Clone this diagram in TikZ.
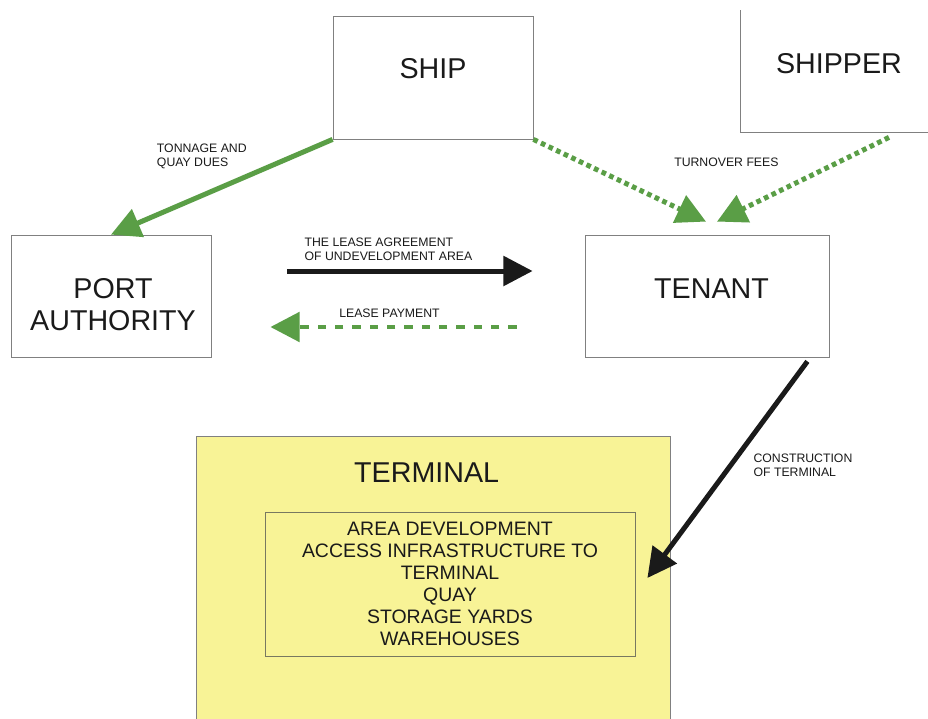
\documentclass[tikz,border=0pt]{standalone}
\usepackage{fontspec}
\setmainfont{Liberation Sans}
\usetikzlibrary{arrows.meta}
\definecolor{flowgreen}{RGB}{90,158,70}
\definecolor{boxline}{RGB}{128,128,128}
\definecolor{areafill}{RGB}{248,243,150}
\definecolor{arealine}{RGB}{120,120,96}
\definecolor{inkblack}{RGB}{26,26,26}
\tikzstyle{party}=[
	rectangle,
	draw=boxline,
	line width=0.6pt,
	fill=white
]
\tikzstyle{partyname}=[
	font=\fontsize{21.5}{24}\selectfont,
	align=center,
	text=inkblack,
	inner sep=0pt
]
\tikzstyle{note}=[
	font=\fontsize{9.2}{10}\selectfont,
	align=left,
	anchor=north west,
	inner sep=0pt,
	text=inkblack
]
\tikzstyle{flow}=[
	line width=3.75pt,
	-{Triangle[length=22pt,width=22pt]}
]
\tikzstyle{money}=[flow, color=flowgreen]
\tikzstyle{fees}=[money, dash pattern=on 3.5pt off 2.8pt]
\tikzstyle{rent}=[money, line width=3.5pt, dash pattern=on 6.2pt off 6.8pt]
\tikzstyle{deal}=[flow, color=inkblack]

\begin{document}
\begin{tikzpicture}[x=0.75pt,y=-0.75pt]
\clip (0,0) rectangle (928,718);
\fill[white] (0,0) rectangle (928,718);

% the parties
\node [party, minimum width=150pt, minimum height=92.25pt] (ship) at (433,77.5) {};
\node [party, draw=none, minimum width=150pt, minimum height=103.5pt] (shipper) at (841,63) {};
\draw [boxline, line width=0.6pt] (shipper.south west |- 0,10) -- (shipper.south west) -- (shipper.south east);
\node [party, minimum width=150pt, minimum height=91.5pt] (port) at (111,296) {};
\node [party, minimum width=183pt, minimum height=91.5pt] (tenant) at (707,296) {};
\node [partyname] (shipname) at (433,68.2) {SHIP};
\node [partyname] (shippername) at (839,63.7) {SHIPPER};
\node [partyname] (portname) at (113,304.2) {PORT\\AUTHORITY};
\node [partyname] (tenantname) at (711.5,288.3) {TENANT};

% terminal area
\node [rectangle, draw=boxline, line width=0.6pt, fill=areafill,
	minimum width=355.5pt, minimum height=228pt] (terminal) at (433,588) {};
\node [partyname] (terminalname) at (426.7,472.8) {TERMINAL};
\node [rectangle, draw=arealine, line width=0.6pt, minimum width=277.5pt, minimum height=108pt,
	font=\fontsize{14.6}{16.5}\selectfont, align=center, text=inkblack] (works) at (450,584)
	{AREA DEVELOPMENT\\ACCESS INFRASTRUCTURE TO\\TERMINAL\\QUAY\\STORAGE YARDS\\WAREHOUSES};

% flows
\draw [money] (ship.south west) -- (port.north);
\draw [fees] (ship.south east) -- ([shift={(-1,-13)}]tenant.north);
\draw [fees] ([shift={(48,5)}]shipper.south) -- ([shift={(10,-13)}]tenant.north);
\draw [deal] ([shift={(76,-25)}]port.east) -- ([shift={(-52,-25)}]tenant.west);
\draw [rent] ([shift={(-68,31)}]tenant.west) -- ([shift={(59,31)}]port.east);
\draw [deal] ([shift={(-22,4)}]tenant.south east) -- ([shift={(12,-6)}]works.east);

% flow labels
\node [note] (dues) at (156.7,144) {TONNAGE AND\\QUAY DUES};
\node [note] (turnover) at (674,157.3) {TURNOVER FEES};
\node [note] (lease) at (304.3,237.9) {THE LEASE AGREEMENT\\OF UNDEVELOPMENT AREA};
\node [note] (payment) at (339,308.5) {LEASE PAYMENT};
\node [note] (construction) at (753.3,453.9) {CONSTRUCTION\\OF TERMINAL};
\end{tikzpicture}
\end{document}
